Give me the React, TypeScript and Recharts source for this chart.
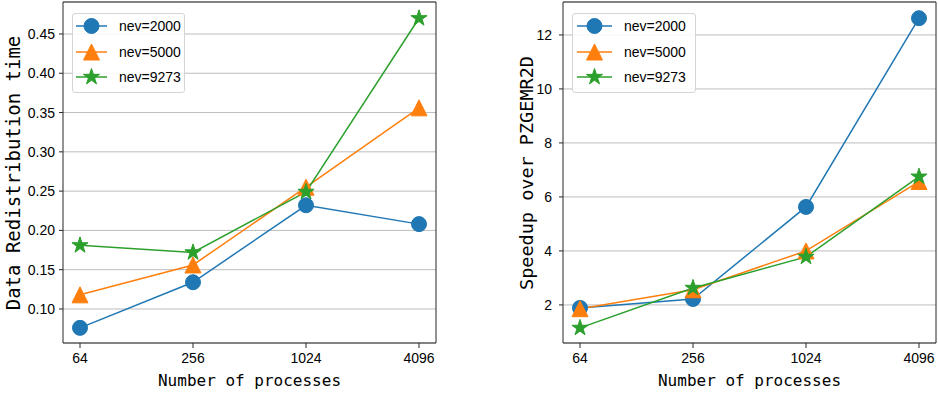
import React from 'react';
import { LineChart, Line, XAxis, YAxis, CartesianGrid, Legend } from 'recharts';

// processes on the x axis
const processes = ['64', '256', '1024', '4096'];

// left panel: data redistribution time
const timeNev2000 = [0.076, 0.134, 0.232, 0.208];
const timeNev5000 = [0.118, 0.156, 0.255, 0.356];
const timeNev9273 = [0.181, 0.172, 0.249, 0.47];
const timeTicks = [0.1, 0.15, 0.2, 0.25, 0.3, 0.35, 0.4, 0.45];

// right panel: speedup over PZGEMR2D
const speedNev2000 = [1.89, 2.22, 5.63, 12.62];
const speedNev5000 = [1.86, 2.56, 4.0, 6.57];
const speedNev9273 = [1.15, 2.63, 3.78, 6.75];
const speedTicks = [2, 4, 6, 8, 10, 12];

const seriesNames = ['nev=2000', 'nev=5000', 'nev=9273'];

const BLUE = '#1f77b4';
const ORANGE = '#ff7f0e';
const GREEN = '#2ca02c';
const AXIS = '#262626';
const GRID = '#bdbdbd';
const TICK_FONT = '"Liberation Sans", Arial, sans-serif';
const TITLE_FONT = '"DejaVu Sans Mono", monospace';

const timeData = processes.map((p, i) => ({
  p,
  a: timeNev2000[i],
  b: timeNev5000[i],
  c: timeNev9273[i],
}));

const speedData = processes.map((p, i) => ({
  p,
  a: speedNev2000[i],
  b: speedNev5000[i],
  c: speedNev9273[i],
}));

type Marker = 'circle' | 'triangle' | 'star';

function markerShape(kind: Marker, cx: number, cy: number, color: string, key?: any) {
  if (kind === 'circle') {
    return <circle key={key} cx={cx} cy={cy} r={7.5} fill={color} stroke={color} strokeWidth={1} />;
  }
  if (kind === 'triangle') {
    const pts = `${cx},${cy - 8} ${cx - 8},${cy + 8} ${cx + 8},${cy + 8}`;
    return <polygon key={key} points={pts} fill={color} stroke={color} strokeWidth={1} />;
  }
  const R = 8.5;
  const r = R * 0.382;
  const pts: string[] = [];
  for (let k = 0; k < 10; k++) {
    const ang = -Math.PI / 2 + (k * Math.PI) / 5;
    const rad = k % 2 === 0 ? R : r;
    pts.push(`${cx + rad * Math.cos(ang)},${cy + rad * Math.sin(ang)}`);
  }
  return <polygon key={key} points={pts.join(' ')} fill={color} stroke={color} strokeWidth={1} />;
}

const dotFor = (kind: Marker, color: string) => (props: any) =>
  markerShape(kind, props.cx, props.cy, color, `${kind}-${props.index}`);

const entries: { name: string; color: string; kind: Marker }[] = [
  { name: seriesNames[0], color: BLUE, kind: 'circle' },
  { name: seriesNames[1], color: ORANGE, kind: 'triangle' },
  { name: seriesNames[2], color: GREEN, kind: 'star' },
];

function LegendBox({ width, lineX0, lineX1, textX }: { width: number; lineX0: number; lineX1: number; textX: number }) {
  const rowY = [13, 39, 64];
  return (
    <div
      style={{
        width,
        height: 80,
        boxSizing: 'border-box',
        border: '1px solid #d5d5d5',
        borderRadius: 3,
        background: 'rgba(255,255,255,0.85)',
        position: 'relative',
      }}
    >
      <svg width={width} height={80} style={{ position: 'absolute', left: -1, top: -1 }}>
        {entries.map((e, i) => (
          <g key={e.name}>
            <line x1={lineX0} x2={lineX1} y1={rowY[i]} y2={rowY[i]} stroke={e.color} strokeWidth={1.5} />
            {markerShape(e.kind, (lineX0 + lineX1) / 2, rowY[i], e.color)}
            <text x={textX} y={rowY[i]} dy="0.36em" fontSize={14} fontFamily={TICK_FONT} fill="#000">
              {e.name}
            </text>
          </g>
        ))}
      </svg>
    </div>
  );
}

// axis titles; own prop names so the cloned label props don't override them
function YTitle({ posX, posY, text, size }: any) {
  return (
    <text
      x={posX}
      y={posY}
      transform={`rotate(-90, ${posX}, ${posY})`}
      textAnchor="middle"
      fontSize={size}
      fontFamily={TITLE_FONT}
      fill="#000"
    >
      {text}
    </text>
  );
}

function XTitle({ posX, posY, text }: any) {
  return (
    <text x={posX} y={posY} textAnchor="middle" fontSize={16} fontFamily={TITLE_FONT} fill="#000">
      {text}
    </text>
  );
}

function Panel({
  data,
  width,
  yWidth,
  right,
  domain,
  ticks,
  fmt,
  yTitle,
  yTitleX,
  yTitleSize,
  tickMargin,
  legend,
}: any) {
  const plotLeft = yWidth;
  const plotRight = width - right;
  return (
    <LineChart width={width} height={396} data={data} margin={{ top: 1, right: right - 1, bottom: 0, left: 0 }}>
      <CartesianGrid vertical={false} stroke={GRID} strokeWidth={1} />
      <XAxis
        dataKey="p"
        height={53}
        padding={{ left: 17, right: 17 }}
        stroke={AXIS}
        tickSize={5}
        tickMargin={5}
        tick={{ fontSize: 14, fill: '#000', fontFamily: TICK_FONT }}
        label={<XTitle posX={(plotLeft + plotRight) / 2} posY={386} text="Number of processes" />}
      />
      <XAxis xAxisId="top" dataKey="p" orientation="top" height={1} tick={false} tickLine={false} stroke={AXIS} padding={{ left: 17, right: 17 }} />
      <YAxis
        width={yWidth}
        domain={domain}
        ticks={ticks}
        type="number"
        allowDataOverflow
        stroke={AXIS}
        tickSize={4}
        tickMargin={tickMargin}
        tickFormatter={fmt}
        tick={{ fontSize: 14, fill: '#000', fontFamily: TICK_FONT }}
        label={<YTitle posX={yTitleX} posY={173} text={yTitle} size={yTitleSize} />}
      />
      <YAxis yAxisId="right" orientation="right" width={1} domain={domain} type="number" allowDataOverflow tick={false} tickLine={false} stroke={AXIS} />
      <Legend
        layout="vertical"
        align="center"
        verticalAlign="middle"
        wrapperStyle={{ left: legend.left, top: 13, width: legend.width, height: 80 }}
        content={() => <LegendBox width={legend.width} lineX0={legend.x0} lineX1={legend.x1} textX={legend.tx} />}
      />
      {/* invisible series so the top/right frame axes are registered and drawn */}
      <Line xAxisId="top" yAxisId="right" dataKey="a" stroke="none" dot={false} activeDot={false} legendType="none" isAnimationActive={false} />
      <Line dataKey="a" name={seriesNames[0]} stroke={BLUE} strokeWidth={1.5} dot={dotFor('circle', BLUE)} isAnimationActive={false} />
      <Line dataKey="b" name={seriesNames[1]} stroke={ORANGE} strokeWidth={1.5} dot={dotFor('triangle', ORANGE)} isAnimationActive={false} />
      <Line dataKey="c" name={seriesNames[2]} stroke={GREEN} strokeWidth={1.5} dot={dotFor('star', GREEN)} isAnimationActive={false} />
    </LineChart>
  );
}

export default function App() {
  return (
    <div style={{ position: 'absolute', left: 0, top: 0, width: 938, height: 396, background: '#fff' }}>
      <div style={{ position: 'absolute', left: 0, top: 0 }}>
        <Panel
          data={timeData}
          width={470}
          yWidth={63}
          right={34}
          domain={[0.0567, 0.4907]}
          ticks={timeTicks}
          fmt={(v: number) => v.toFixed(2)}
          yTitle="Data Redistribution time"
          yTitleX={20}
          yTitleSize={19}
          tickMargin={4}
          legend={{ left: 72, width: 113, x0: 4, x1: 35, tx: 47 }}
        />
      </div>
      <div style={{ position: 'absolute', left: 470, top: 0 }}>
        <Panel
          data={speedData}
          width={468}
          yWidth={93}
          right={2}
          domain={[0.59, 13.22]}
          ticks={speedTicks}
          fmt={(v: number) => String(v)}
          yTitle="Speedup over PZGEMR2D"
          yTitleX={63}
          yTitleSize={18.5}
          tickMargin={7}
          legend={{ left: 102, width: 124, x0: 5, x1: 40, tx: 52 }}
        />
      </div>
    </div>
  );
}
